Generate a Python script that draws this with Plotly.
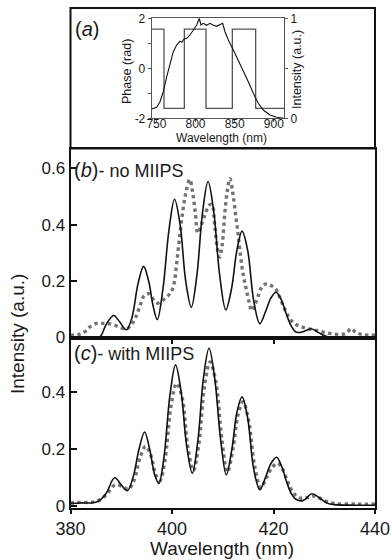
import plotly.graph_objects as go

# ---------------- data ----------------
# (a) inset: phase mask (rad) and laser spectrum (a.u.)
phase_wl = [744, 759.7, 785.7, 813.4, 847.0, 876.8, 913]
phase_val = [1.57, -1.6, 1.57, -1.6, 1.57, -1.6, -1.6]

spec_wl = [744, 750.4, 754.6, 758.8, 763.2, 767.4, 771.6, 775.9, 778.0, 780.1, 782.5, 785.0,
           788.7, 792.9, 797.1, 801.5, 804.8, 806.9, 809.9, 814.2, 818.5, 822.7, 827.0,
           831.2, 834.7, 837.6, 841.9, 848.3, 854.6, 861.0, 867.4, 873.8, 880.2, 886.5,
           895.1, 903.6, 910.0, 913]
spec_val = [0.093, 0.11, 0.166, 0.266, 0.416, 0.55, 0.666, 0.733, 0.75, 0.77, 0.76, 0.79,
            0.80, 0.833, 0.88, 0.933, 1.0, 0.933, 0.95, 0.93, 0.95, 0.93, 0.92,
            0.94, 0.95, 0.866, 0.783, 0.683, 0.583, 0.483, 0.366, 0.25, 0.15, 0.083,
            0.033, 0.01, 0.0, 0.0]

# (b) no MIIPS: SHG spectrum, solid (black) and dotted (gray)
b_line_wl = [380.0, 382.0, 384.0, 385.8, 387.0, 388.5, 389.7, 391.0, 392.1, 393.3, 394.4,
             395.4, 396.3, 397.1, 398.2, 399.4, 400.5, 401.6, 402.7, 403.8, 404.9, 406.0,
             407.1, 408.2, 409.4, 410.6, 411.7, 412.8, 413.8, 414.9, 416.1, 417.3, 418.4,
             419.5, 420.5, 421.5, 422.5, 423.5, 424.4, 425.8, 427.4, 428.8, 430.3, 432.0,
             436.0, 440.0]
b_line_val = [0.0, 0.0, 0.0, 0.003, 0.045, 0.078, 0.055, 0.027, 0.07, 0.19, 0.252,
              0.2, 0.11, 0.063, 0.17, 0.38, 0.49, 0.4, 0.2, 0.107, 0.22, 0.44,
              0.553, 0.45, 0.22, 0.098, 0.17, 0.31, 0.377, 0.31, 0.13, 0.049, 0.09,
              0.14, 0.16, 0.135, 0.084, 0.04, 0.019, 0.02, 0.031, 0.018, 0.004, 0.0,
              0.0, 0.0]

b_dot_wl = [380.0, 381.5, 382.8, 383.8, 385.0, 386.2, 387.3, 388.5, 389.8, 391.0, 392.0,
            392.8, 393.6, 394.5, 395.4, 396.2, 397.0, 397.9, 398.9, 399.8, 400.4, 400.9,
            401.4, 402.0, 402.7, 403.5, 404.1, 404.6, 405.1, 405.8, 406.6, 407.4, 407.9,
            408.4, 408.9, 409.4, 409.9, 410.4, 410.9, 411.4, 412.0, 412.5, 413.0, 413.5,
            414.0, 414.6, 415.2, 415.7, 416.2, 416.9, 417.8, 418.7, 419.6, 420.5, 421.5,
            422.5, 423.5, 424.5, 425.8, 427.0, 428.4, 430.0, 431.7, 433.5, 434.5, 435.3,
            436.2, 437.6, 440.0]
b_dot_val = [0.008, 0.01, 0.02, 0.037, 0.049, 0.05, 0.049, 0.045, 0.035, 0.03, 0.045,
             0.07, 0.107, 0.148, 0.155, 0.138, 0.122, 0.128, 0.143, 0.16, 0.19, 0.26,
             0.34, 0.43, 0.51, 0.56, 0.51, 0.44, 0.37, 0.40, 0.44, 0.47, 0.47,
             0.40, 0.32, 0.285, 0.33, 0.44, 0.52, 0.563, 0.51, 0.44, 0.37, 0.29,
             0.225, 0.173, 0.125, 0.095, 0.11, 0.143, 0.182, 0.19, 0.183, 0.17, 0.13,
             0.09, 0.06, 0.045, 0.036, 0.03, 0.025, 0.018, 0.013, 0.01, 0.018, 0.031,
             0.018, 0.01, 0.008]

# (c) with MIIPS
c_line_wl = [380.0, 382.0, 384.0, 385.5, 387.0, 388.7, 390.0, 391.2, 392.3, 393.5, 394.6,
             395.6, 396.6, 397.4, 398.4, 399.6, 400.7, 401.8, 402.9, 404.0, 405.1, 406.2,
             407.3, 408.4, 409.6, 410.7, 411.8, 412.8, 413.8, 414.9, 416.1, 417.3, 418.4,
             419.5, 420.6, 421.6, 422.6, 423.5, 424.4, 425.8, 427.6, 429.0, 430.5, 432.0,
             436.0, 440.0]
c_line_val = [0.01, 0.012, 0.012, 0.018, 0.045, 0.1, 0.075, 0.055, 0.1, 0.2, 0.26,
              0.2, 0.11, 0.08, 0.17, 0.39, 0.495, 0.4, 0.21, 0.116, 0.23, 0.45,
              0.553, 0.45, 0.23, 0.11, 0.2, 0.33, 0.383, 0.31, 0.13, 0.058, 0.1,
              0.15, 0.172, 0.14, 0.085, 0.045, 0.025, 0.02, 0.044, 0.03, 0.012, 0.006,
              0.004, 0.004]

c_dot_wl = [380.0, 382.0, 384.0, 385.5, 387.0, 388.8, 390.2, 391.4, 392.5, 393.7, 394.8,
            395.8, 396.8, 397.6, 398.6, 399.8, 400.9, 402.0, 403.1, 404.2, 405.3, 406.4,
            407.5, 408.6, 409.8, 410.9, 412.0, 413.0, 414.0, 415.1, 416.3, 417.5, 418.6,
            419.7, 420.8, 421.8, 422.8, 423.8, 425.0, 426.5, 428.2, 430.0, 432.0, 436.0,
            440.0]
c_dot_val = [0.012, 0.014, 0.014, 0.02, 0.04, 0.075, 0.07, 0.06, 0.09, 0.17, 0.21,
             0.18, 0.11, 0.09, 0.16, 0.35, 0.43, 0.38, 0.21, 0.125, 0.22, 0.42,
             0.505, 0.44, 0.24, 0.12, 0.2, 0.32, 0.366, 0.3, 0.14, 0.065, 0.1,
             0.135, 0.151, 0.13, 0.085, 0.05, 0.03, 0.03, 0.036, 0.02, 0.01, 0.008,
             0.008]

main_xticks = [380, 400, 420, 440]
b_yticks = [0, 0.2, 0.4, 0.6]
b_yticklabels = ["0", "0.2", "0.4", "0.6"]
c_yticks = [0, 0.2, 0.4]
c_yticklabels = ["0", "0.2", "0.4"]
inset_xticks = [750, 800, 850, 900]
inset_yticks = [-2, -1, 0, 1, 2]
inset_yticklabels = ["-2", "", "0", "", "2"]
inset_y2ticks = [0, 0.5, 1]
inset_y2ticklabels = ["0", "", "1"]

# ---------------- layout helpers ----------------
W, H = 392, 560
FONT = "Liberation Sans, Arial, sans-serif"
TXT = "#1a1a1a"


def px(x):
    return x / W


def py(y):
    return 1 - y / H


BLACK = "#111111"
GRAY = "#737373"

fig = go.Figure()

# panel (b)
fig.add_trace(go.Scatter(x=b_dot_wl, y=b_dot_val, mode="lines", line=dict(color=GRAY, width=3.4, dash="dot", shape="spline"),
                         xaxis="x", yaxis="y", showlegend=False))
fig.add_trace(go.Scatter(x=b_line_wl, y=b_line_val, mode="lines", line=dict(color=BLACK, width=1.6, shape="spline"),
                         xaxis="x", yaxis="y", showlegend=False))
# panel (c)
fig.add_trace(go.Scatter(x=c_dot_wl, y=c_dot_val, mode="lines", line=dict(color=GRAY, width=3.4, dash="dot", shape="spline"),
                         xaxis="x2", yaxis="y2", showlegend=False))
fig.add_trace(go.Scatter(x=c_line_wl, y=c_line_val, mode="lines", line=dict(color=BLACK, width=1.6, shape="spline"),
                         xaxis="x2", yaxis="y2", showlegend=False))
# inset (a)
fig.add_trace(go.Scatter(x=phase_wl, y=phase_val, mode="lines", line=dict(color="#555555", width=1.3, shape="hv"),
                         xaxis="x3", yaxis="y3", showlegend=False))
fig.add_trace(go.Scatter(x=spec_wl, y=spec_val, mode="lines", line=dict(color="#111111", width=1.1),
                         xaxis="x3", yaxis="y4", showlegend=False))

xdom = [px(70.5), px(375)]
axis_common = dict(showline=True, mirror=True, linecolor="#111111", linewidth=2, showgrid=False, zeroline=False,
                   tickcolor="#111111", tickwidth=1.5, automargin=False)
inset_common = dict(showline=True, linecolor="#555555", linewidth=1, showgrid=False, zeroline=False,
                    tickcolor="#555555", ticks="outside", ticklen=3, tickfont=dict(size=12), automargin=False)

fig.update_layout(
    width=W, height=H, margin=dict(l=0, r=0, t=0, b=0, pad=0, autoexpand=False),
    paper_bgcolor="white", plot_bgcolor="white",
    font=dict(family=FONT, color=TXT),
    xaxis=dict(domain=xdom, anchor="y", range=[380, 440], tickvals=[400, 420], showticklabels=False,
               ticks="outside", ticklen=4, **axis_common),
    yaxis=dict(domain=[py(338), py(149)], anchor="x", range=[-0.002, 0.668], tickvals=b_yticks,
               ticktext=b_yticklabels, ticks="inside", ticklen=6, tickfont=dict(size=17), **axis_common),
    xaxis2=dict(domain=xdom, anchor="y2", range=[380, 440], tickvals=main_xticks,
                ticks="outside", ticklen=4, tickfont=dict(size=18), **axis_common),
    yaxis2=dict(domain=[py(507.5), py(338)], anchor="x2", range=[-0.004, 0.589], tickvals=c_yticks,
                ticktext=c_yticklabels, ticks="inside", ticklen=6, tickfont=dict(size=17), **axis_common),
    xaxis3=dict(domain=[px(151.7), px(284)], anchor="y3", range=[744, 913], tickvals=inset_xticks,
                mirror=True, ticklabelstandoff=-9, **inset_common),
    yaxis3=dict(domain=[py(118.3), py(18.3)], anchor="x3", range=[-2, 2], tickvals=inset_yticks,
                ticktext=inset_yticklabels, **inset_common),
    yaxis4=dict(overlaying="y3", anchor="x3", side="right", range=[0, 1], tickvals=inset_y2ticks,
                ticktext=inset_y2ticklabels, **inset_common),
    shapes=[dict(type="rect", xref="paper", yref="paper", x0=px(70.5), x1=px(375), y0=py(148.5), y1=py(8),
                 line=dict(color="#111111", width=2), fillcolor="rgba(0,0,0,0)", layer="above")],
)

ann = [
    dict(text="(<i>a</i>)", x=px(73), y=py(29), xanchor="left", yanchor="middle", font=dict(size=20)),
    dict(text="<span style='font-size:20px'>(<i>b</i>)</span>- no MIIPS", x=px(72), y=py(170),
         xanchor="left", yanchor="middle", font=dict(size=18)),
    dict(text="<span style='font-size:20px'>(<i>c</i>)</span>- with MIIPS", x=px(72), y=py(353),
         xanchor="left", yanchor="middle", font=dict(size=18)),
    dict(text="Intensity (a.u.)", x=px(17), y=py(334), textangle=-90, xanchor="center", yanchor="middle",
         font=dict(size=19)),
    dict(text="Wavelength (nm)", x=px(222), y=py(548), xanchor="center", yanchor="middle", font=dict(size=19)),
    dict(text="Phase (rad)", x=px(127), y=py(72), textangle=-90, xanchor="center", yanchor="middle",
         font=dict(size=12.5)),
    dict(text="Intensity (a.u.)", x=px(297), y=py(70), textangle=-90, xanchor="center", yanchor="middle",
         font=dict(size=12.5)),
    dict(text="Wavelength (nm)", x=px(221), y=py(137.5), xanchor="center", yanchor="middle", font=dict(size=12)),
]
for a in ann:
    a.update(xref="paper", yref="paper", showarrow=False)
    a.setdefault("font", {})
    a["font"].setdefault("color", TXT)
fig.update_layout(annotations=ann)

# remove the default page margin so the 392x560 figure fills the window exactly
fig.write_html("out.html", config={"displayModeBar": False},
               post_script="document.body.style.margin='0px';document.body.style.overflow='hidden';")
